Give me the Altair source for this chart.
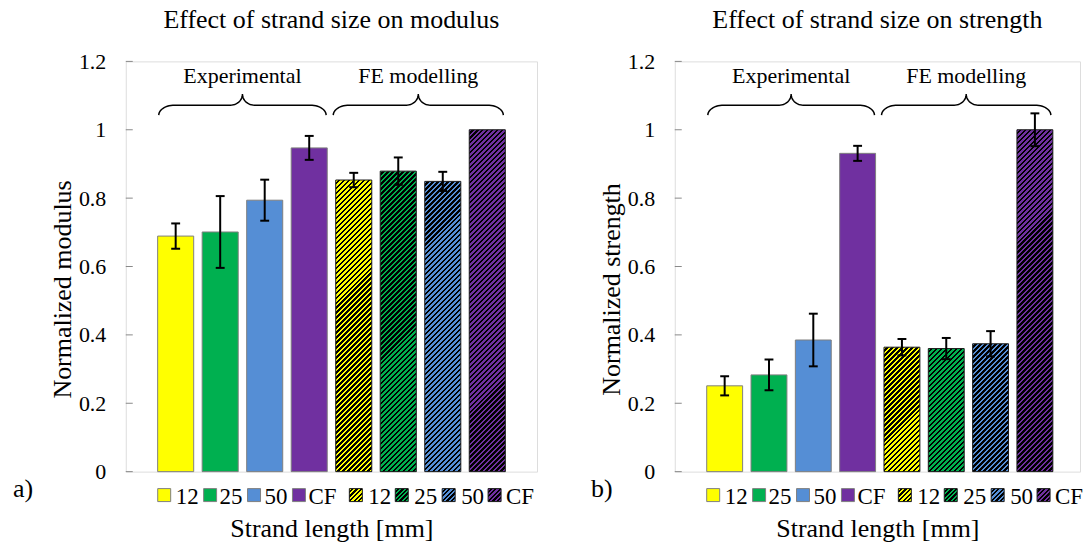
import altair as alt
import pandas as pd
import numpy as np

# ---------------- data ----------------
sizes = ["12", "25", "50", "CF"]
colors = ["#FFFF00", "#00B050", "#558ED5", "#7030A0"]

modulus_exp = [0.689, 0.701, 0.794, 0.947]
modulus_exp_err = [0.037, 0.105, 0.060, 0.035]
modulus_fe = [0.853, 0.879, 0.849, 1.000]
modulus_fe_err = [0.021, 0.040, 0.028, 0.000]

strength_exp = [0.251, 0.283, 0.385, 0.931]
strength_exp_err = [0.028, 0.045, 0.077, 0.022]
strength_fe = [0.364, 0.360, 0.374, 1.000]
strength_fe_err = [0.024, 0.031, 0.037, 0.048]

y_ticks = [0, 0.2, 0.4, 0.6, 0.8, 1.0, 1.2]
group_labels = ["Experimental", "FE modelling"]

# ---------------- layout / style constants ----------------
PLOT_H = 411
Y_MAX = 1.2
BAR_HALF = 0.405
FONT = "Liberation Serif"
GRAY = "#898989"
HATCH_PV = 5.0      # vertical period of the hatch, px
HATCH_SEG = 20.0    # hatch tile height, px (multiple of HATCH_PV)

legend_swatch_px = [32, 78, 122, 167, 224, 270, 317, 363]
legend_label_px = [50, 94, 139, 183, 243, 289, 336, 381]


def hatch(color, w, h, pv=HATCH_PV):
    """Diagonal stripes (45 deg) as a hard-stop linear gradient in bbox units."""
    period = pv / np.sqrt(2)
    D = (w + h) / np.sqrt(2)
    c = (w + h) / (w * w + h * h)
    stops = []
    n = int(np.ceil(D / period))
    for k in range(n):
        a = min(k * period / D, 1.0)
        m = min((k + 0.5) * period / D, 1.0)
        b = min((k + 1) * period / D, 1.0)
        for off, col in ((a, color), (m, color), (m, "#000000"), (b, "#000000")):
            stops.append(alt.GradientStop(offset=float(off), color=col))
    return alt.LinearGradient(gradient="linear", stops=stops,
                              x1=0, y1=0, x2=float(c * w), y2=float(c * h))


def brace_points(x0, x1, unit, ypx, yline=1.072, drop=10, rise=11, r_end=16, r_mid=12, n=14):
    W = (x1 - x0) * unit
    th = np.linspace(0, np.pi / 2, n)
    pts = [(r_end - r_end * np.cos(t), drop - drop * np.sin(t)) for t in th]
    pts += [(W / 2 - r_mid + r_mid * np.sin(t), -rise + rise * np.cos(t)) for t in th]
    right = [(W - px, py) for (px, py) in reversed(pts)]
    allp = pts + right
    return [(x0 + px / unit, yline - py / ypx) for px, py in allp]


def hatched_bar(pos, v, color, unit, ypx):
    """A hatched bar built from equal tiles (top down) plus a remainder tile."""
    w = 2 * BAR_HALF * unit
    h = v * ypx
    n_full = int(h // HATCH_SEG)
    rem = h - n_full * HATCH_SEG
    out = []
    rows = []
    for k in range(n_full):
        top = h - k * HATCH_SEG
        bot = max(top - HATCH_SEG - 1, 0)
        rows.append({"l": pos - BAR_HALF, "r": pos + BAR_HALF, "t": top / ypx, "b": bot / ypx})
    if rows:
        out.append(
            alt.Chart(pd.DataFrame(rows)).mark_rect(fill=hatch(color, w, HATCH_SEG + 1)).encode(
                x="l:Q", x2="r:Q", y="t:Q", y2="b:Q"
            )
        )
    if rem > 0.3:
        df = pd.DataFrame({"l": [pos - BAR_HALF], "r": [pos + BAR_HALF], "t": [rem / ypx], "b": [0.0]})
        out.append(
            alt.Chart(df).mark_rect(fill=hatch(color, w, rem)).encode(
                x="l:Q", x2="r:Q", y="t:Q", y2="b:Q"
            )
        )
    return out


def panel(title, ytitle, letter, exp, exp_err, fe, fe_err, width, xdom, first):
    unit = width / (xdom[1] - xdom[0])
    ypx = PLOT_H / Y_MAX
    xs = alt.Scale(domain=xdom, nice=False, zero=False)
    ys = alt.Scale(domain=[0, Y_MAX], nice=False, zero=True)

    def px2x(p):
        return xdom[0] + p / unit

    def py2y(p):
        return (PLOT_H - p) / ypx

    # solid experimental bars
    sol = pd.DataFrame({"pos": [1, 2, 3, 4], "size": sizes, "v": exp, "c": colors})
    sol["l"] = sol["pos"] - BAR_HALF
    sol["r"] = sol["pos"] + BAR_HALF
    sol["z"] = 0.0
    xaxis = alt.Axis(title="Strand length [mm]", labels=False, ticks=False, domain=False,
                     grid=False, titleFontSize=26, titleFontWeight="normal", titleFont=FONT,
                     titleColor="black", titleY=65, titleBaseline="alphabetic")
    yaxis = alt.Axis(title=ytitle, values=y_ticks, format="~g", ticks=False, domain=False,
                     grid=False, labelFontSize=22, labelFont=FONT, labelColor="black",
                     labelPadding=20, titleFontSize=26, titleFontWeight="normal",
                     titleFont=FONT, titleColor="black", titleX=-63, titleY=228,
                     titleAngle=270, titleBaseline="middle", titleAlign="center")
    layers = []
    layers.append(
        alt.Chart(sol).mark_rect(stroke="#808080", strokeWidth=1).encode(
            x=alt.X("l:Q", scale=xs, axis=xaxis),
            x2="r:Q",
            y=alt.Y("v:Q", scale=ys, axis=yaxis),
            y2="z:Q",
            fill=alt.Fill("c:N", scale=None),
        )
    )
    # hatched FE bars
    for i in range(4):
        layers.extend(hatched_bar(5 + i, fe[i], colors[i], unit, ypx))
    fo = pd.DataFrame({"pos": [5, 6, 7, 8], "v": fe})
    fo["l"] = fo["pos"] - BAR_HALF
    fo["r"] = fo["pos"] + BAR_HALF
    fo["z"] = 0.0
    layers.append(
        alt.Chart(fo).mark_rect(fillOpacity=0, stroke="#1a1a1a", strokeWidth=1).encode(
            x="l:Q", x2="r:Q", y="v:Q", y2="z:Q"
        )
    )
    # error bars
    vals = list(exp) + list(fe)
    errs = list(exp_err) + list(fe_err)
    er = pd.DataFrame({"pos": list(range(1, 9)), "v": vals, "e": errs})
    er = er[er["e"] > 0].copy()
    er["lo"] = er["v"] - er["e"]
    er["hi"] = er["v"] + er["e"]
    layers.append(
        alt.Chart(er).mark_rule(color="black", strokeWidth=2).encode(
            x="pos:Q", y="lo:Q", y2="hi:Q"
        )
    )
    caps = pd.concat([
        pd.DataFrame({"cl": er["pos"] - 0.1, "cr": er["pos"] + 0.1, "cy": er["lo"]}),
        pd.DataFrame({"cl": er["pos"] - 0.1, "cr": er["pos"] + 0.1, "cy": er["hi"]}),
    ])
    layers.append(
        alt.Chart(caps).mark_rule(color="black", strokeWidth=2).encode(
            x="cl:Q", x2="cr:Q", y="cy:Q"
        )
    )
    # inward y ticks
    tk = pd.DataFrame({"t": y_ticks})
    layers.append(
        alt.Chart(tk).mark_rule(color=GRAY, strokeWidth=1).encode(
            y="t:Q", x=alt.value(0), x2=alt.value(7)
        )
    )
    # braces
    rows = []
    for g, (a, b) in enumerate([(0.62, 4.38), (4.54, 8.36)]):
        for o, (bx, by) in enumerate(brace_points(a, b, unit, ypx)):
            rows.append({"g": g, "o": o, "bx": bx, "by": by})
    br = pd.DataFrame(rows)
    layers.append(
        alt.Chart(br).mark_line(color="black", strokeWidth=1.5).encode(
            x="bx:Q", y="by:Q", detail="g:N", order="o:Q"
        )
    )
    bl = pd.DataFrame({"t": group_labels, "tx": [2.5, 6.45], "ty": [1.156, 1.156]})
    layers.append(
        alt.Chart(bl).mark_text(font=FONT, fontSize=22, baseline="middle", align="center",
                                color="black").encode(x="tx:Q", y="ty:Q", text="t:N")
    )
    # legend (solid)
    lg = pd.DataFrame({
        "sl": [px2x(p) for p in legend_swatch_px[:4]],
        "sr": [px2x(p + 13) for p in legend_swatch_px[:4]],
        "st": [py2y(428)] * 4,
        "sb": [py2y(441)] * 4,
        "c": colors,
    })
    layers.append(
        alt.Chart(lg).mark_rect(stroke="#808080", strokeWidth=1).encode(
            x="sl:Q", x2="sr:Q", y="st:Q", y2="sb:Q", fill=alt.Fill("c:N", scale=None)
        )
    )
    # legend (hatched)
    for i in range(4):
        p = legend_swatch_px[4 + i]
        df = pd.DataFrame({"sl": [px2x(p)], "sr": [px2x(p + 13)],
                           "st": [py2y(428)], "sb": [py2y(441)]})
        layers.append(
            alt.Chart(df).mark_rect(fill=hatch(colors[i], 13, 13, 4.6), stroke="#1a1a1a",
                                    strokeWidth=1).encode(
                x="sl:Q", x2="sr:Q", y="st:Q", y2="sb:Q"
            )
        )
    lt = pd.DataFrame({"t": sizes + sizes,
                       "lx": [px2x(p) for p in legend_label_px],
                       "ly": [py2y(443)] * 8})
    layers.append(
        alt.Chart(lt).mark_text(font=FONT, fontSize=23, baseline="alphabetic", align="left",
                                color="black").encode(x="lx:Q", y="ly:Q", text="t:N")
    )
    # panel title and letter
    layers.append(
        alt.Chart(pd.DataFrame({"t": [title]})).mark_text(
            font=FONT, fontSize=26, baseline="alphabetic", align="center", color="black"
        ).encode(x=alt.value(width / 2), y=alt.value(-33), text="t:N")
    )
    layers.append(
        alt.Chart(pd.DataFrame({"t": [letter]})).mark_text(
            font=FONT, fontSize=26, baseline="alphabetic", align="left", color="black"
        ).encode(x=alt.value(-113 if first else -84), y=alt.value(436), text="t:N")
    )
    # invisible frame fixing the page extent
    if first:
        fr = alt.Chart(pd.DataFrame({"a": [0]})).mark_rect(opacity=0).encode(
            x=alt.value(-125), x2=alt.value(0), y=alt.value(-60), y2=alt.value(PLOT_H + 74))
    else:
        fr = alt.Chart(pd.DataFrame({"a": [0]})).mark_rect(opacity=0).encode(
            x=alt.value(width - 10), x2=alt.value(width + 5), y=alt.value(-60),
            y2=alt.value(PLOT_H + 74))
    layers.append(fr)
    return alt.layer(*layers).properties(width=width, height=PLOT_H)


left = panel("Effect of strand size on modulus", "Normalized modulus", "a)",
             modulus_exp, modulus_exp_err, modulus_fe, modulus_fe_err,
             412, [-0.121, 9.117], True)
right = panel("Effect of strand size on strength", "Normalized strength", "b)",
              strength_exp, strength_exp_err, strength_fe, strength_fe_err,
              406, [-0.126, 9.018], False)

chart = alt.hconcat(left, right, spacing=138, bounds="flush").properties(
    padding=0, background="white"
).configure_view(stroke=GRAY, strokeWidth=1).configure(font=FONT)

chart.save("out.html", embed_options={"renderer": "svg", "actions": False})
